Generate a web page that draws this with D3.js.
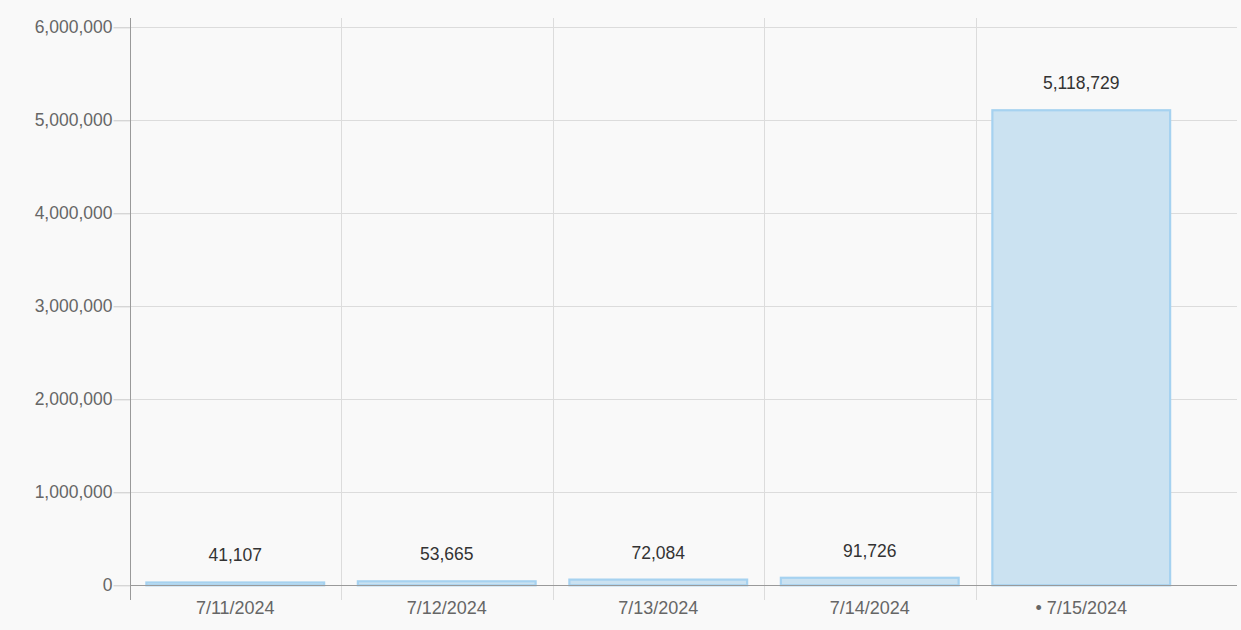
<!DOCTYPE html>
<html><head><meta charset="utf-8">
<script src="https://cdn.jsdelivr.net/npm/d3@7"></script>
<style>
html,body{margin:0;padding:0;background:#f9f9f9;}
svg{display:block;font-family:"Liberation Sans",Arial,sans-serif;}
</style></head>
<body>
<svg id="chart" width="1241" height="630"></svg>
<script>
const categories = ["7/11/2024","7/12/2024","7/13/2024","7/14/2024","• 7/15/2024"];
const values = [41107, 53665, 72084, 91726, 5118729];
const yTicks = [0,1000000,2000000,3000000,4000000,5000000,6000000];

const svg = d3.select("#chart");
const mLeft = 130, mRight = 1237, mTop = 27.3, mBottom = 585.3;
const x = d3.scaleBand().domain(categories).range([mLeft - 0.5, 1187]).paddingInner(0.15).paddingOuter(0.075);
const y = d3.scaleLinear().domain([0, 6000000]).range([mBottom, mTop]);
const fmt = d3.format(",");

svg.append("rect").attr("width",1241).attr("height",630).attr("fill","#f9f9f9");

// horizontal gridlines
svg.append("g").selectAll("line").data(yTicks.filter(d=>d>0)).join("line")
  .attr("x1", mLeft).attr("x2", mRight)
  .attr("y1", d=>Math.round(y(d))+0.5).attr("y2", d=>Math.round(y(d))+0.5)
  .attr("stroke","#dcdcdc").attr("stroke-width",1);

// vertical gridlines at band boundaries
const bounds = categories.slice(1).map(c => x(c) - x.step()*x.paddingInner()/2);
svg.append("g").selectAll("line").data(bounds).join("line")
  .attr("x1", d=>Math.round(d)+0.5).attr("x2", d=>Math.round(d)+0.5)
  .attr("y1", 18).attr("y2", 600)
  .attr("stroke","#dcdcdc").attr("stroke-width",1);

// y axis
const yAxis = svg.append("g").attr("transform",`translate(${mLeft+0.5},0)`)
  .call(d3.axisLeft(y).tickValues(yTicks).tickFormat(fmt).tickSize(17).tickPadding(1));
yAxis.select(".domain").remove();
yAxis.selectAll(".tick line").attr("stroke","#c8c8c8");
yAxis.selectAll(".tick text").attr("fill","#666").style("font-size","17.5px")
  .style("font-family",'"Liberation Sans",Arial,sans-serif');
svg.append("line").attr("x1",mLeft+0.5).attr("x2",mLeft+0.5).attr("y1",18).attr("y2",600)
  .attr("stroke","#9a9a9a").attr("stroke-width",1);

// bars
svg.append("g").selectAll("rect").data(values).join("rect")
  .attr("x",(d,i)=>x(categories[i])+1)
  .attr("width", x.bandwidth()-2)
  .attr("y", d=>y(d)+1)
  .attr("height", d=>Math.max(0, mBottom - y(d) - 1))
  .attr("fill","#cbe2f1").attr("stroke","#a6d2f0").attr("stroke-width",2.2);

// x axis line
svg.append("line").attr("x1",mLeft).attr("x2",mRight).attr("y1",Math.round(mBottom)+0.5).attr("y2",Math.round(mBottom)+0.5)
  .attr("stroke","#9a9a9a").attr("stroke-width",1);

// value labels
svg.append("g").selectAll("text").data(values).join("text")
  .attr("x",(d,i)=>x(categories[i])+x.bandwidth()/2)
  .attr("y", d=>y(d)-20)
  .attr("text-anchor","middle").attr("fill","#333").style("font-size","17.5px")
  .text(d=>fmt(d));

// x labels
const xAxis = svg.append("g").attr("transform",`translate(0,${mBottom})`)
  .call(d3.axisBottom(x).tickSize(0).tickPadding(16));
xAxis.select(".domain").remove();
xAxis.selectAll(".tick text").attr("fill","#666").style("font-size","18px")
  .style("font-family",'"Liberation Sans",Arial,sans-serif').attr("dy","0.71em");
</script>
</body></html>
